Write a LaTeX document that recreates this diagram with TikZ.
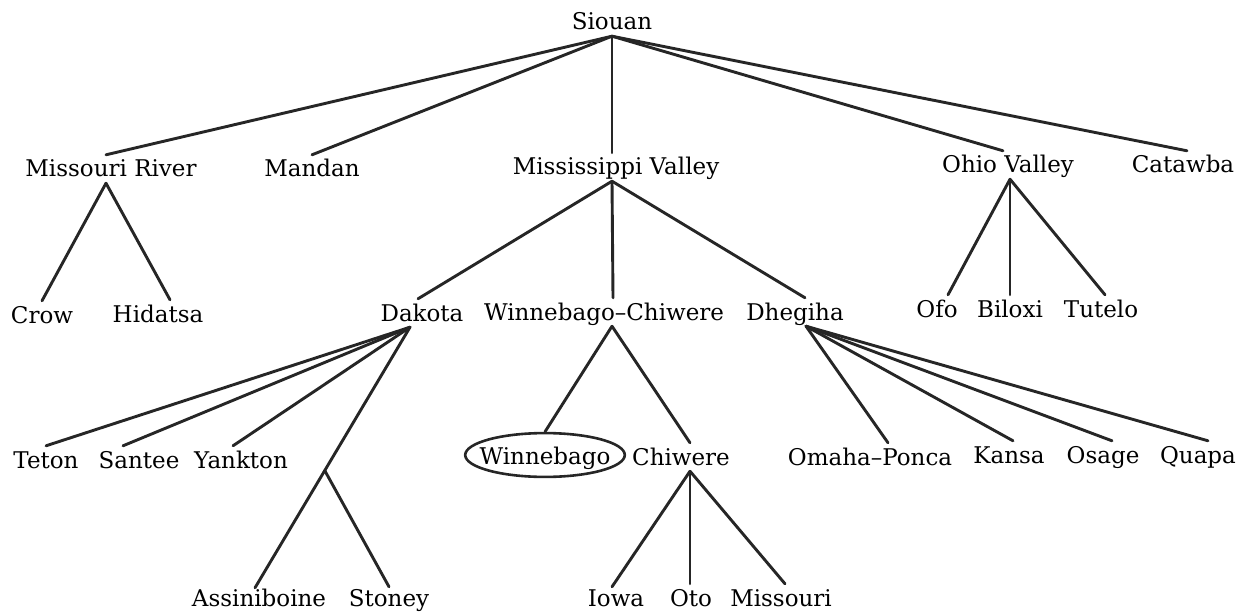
\documentclass[tikz,border=0pt]{standalone}
\usepackage{fontspec}
\setmainfont{DejaVu Serif}
\usetikzlibrary{shapes.geometric,calc}
\begin{document}
\begin{tikzpicture}[x=1pt,y=-1pt,
  lang/.style={font=\fontsize{23}{27}\selectfont, text height=17pt, text depth=1pt,
    inner xsep=0pt, inner ysep=5pt, anchor=base},
  branch/.style={line width=2.9pt, line cap=round, line join=round, draw=black!85}
]
\useasboundingbox (0,0) rectangle (1246,612);

% family root
\node[lang] (siouan) at (612,30) {Siouan};

% first level
\node[lang] (missriver)  at (111,177) {Missouri River};
\node[lang] (mandan)     at (312,177) {Mandan};
\node[lang] (missvalley) at (616,175) {Mississippi Valley};
\node[lang] (ohio)       at (1008,173) {Ohio Valley};
\node[lang] (catawba)    at (1183,173) {Catawba};

% second level
\node[lang] (crow)    at (42,323)  {Crow};
\node[lang] (hidatsa) at (158,322) {Hidatsa};
\node[lang] (dakota)  at (422,321) {Dakota};
\node[lang] (winchi)  at (604,320) {Winnebago\textendash Chiwere};
\node[lang] (dhegiha) at (795,320) {Dhegiha};
\node[lang] (ofo)     at (937,317) {Ofo};
\node[lang] (biloxi)  at (1010,317) {Biloxi};
\node[lang] (tutelo)  at (1101,317) {Tutelo};

% third level
\node[lang] (teton)   at (46,468)  {Teton};
\node[lang] (santee)  at (139,468) {Santee};
\node[lang] (yankton) at (241,468) {Yankton};
\node[lang, ellipse, draw=black!85, line width=2.6pt, anchor=center,
      text height=18pt, text depth=0pt, inner xsep=-9pt, inner ysep=6.5pt]
      (winnebago) at (545,455) {Winnebago};
\node[lang] (chiwere) at (681,465)  {Chiwere};
\node[lang] (omaha)   at (870,465)  {Omaha\textendash Ponca};
\node[lang] (kansa)   at (1009,463) {Kansa};
\node[lang] (osage)   at (1103,463) {Osage};
\node[lang] (quapa)   at (1198,463) {Quapa};

% fourth level
\node[lang] (assiniboine) at (259,606) {Assiniboine};
\node[lang] (stoney)      at (389,606) {Stoney};
\node[lang] (iowa)        at (616,606) {Iowa};
\node[lang] (oto)         at (691,606) {Oto};
\node[lang] (missouri)    at (781,606) {Missouri};

% Siouan branches
\draw[branch] (siouan.south) -- ([xshift=-5pt]missriver.north);
\draw[branch] (siouan.south) -- (mandan.north);
\draw[branch] (siouan.south) -- ([xshift=-4pt]missvalley.north);
\draw[branch] (siouan.south) -- ([xshift=-5pt]ohio.north);
\draw[branch] (siouan.south) -- ([xshift=4pt]catawba.north);

% Missouri River
\draw[branch] ([xshift=-5pt]missriver.south) -- (crow.north);
\draw[branch] ([xshift=-5pt]missriver.south) -- ([xshift=12pt]hidatsa.north);

% Mississippi Valley
\draw[branch] ([xshift=-4pt]missvalley.south) -- ([xshift=-4pt]dakota.north);
\draw[branch] ([xshift=-4pt]missvalley.south) -- ([xshift=9pt]winchi.north);
\draw[branch] ([xshift=-4pt]missvalley.south) -- ([xshift=10pt]dhegiha.north);

% Ohio Valley
\draw[branch] ([xshift=2pt]ohio.south) -- ([xshift=11pt]ofo.north);
\draw[branch] ([xshift=2pt]ohio.south) -- (biloxi.north);
\draw[branch] ([xshift=2pt]ohio.south) -- ([xshift=4pt]tutelo.north);

% Dakota
\coordinate (dk) at ([xshift=-12pt]dakota.south);
\draw[branch] (dk) -- (teton.north);
\draw[branch] (dk) -- ([xshift=-16pt]santee.north);
\draw[branch] (dk) -- ([xshift=-8pt]yankton.north);
\draw[branch] (dk) -- ([xshift=-4pt,yshift=-4pt]assiniboine.north);
\coordinate (fork) at ($(dk)!0.55!([xshift=-4pt,yshift=-4pt]assiniboine.north)$);
\draw[branch] (fork) -- ([yshift=-3pt]stoney.north);

% Winnebago-Chiwere
\draw[branch] ([xshift=8pt]winchi.south) -- (winnebago.north);
\draw[branch] ([xshift=8pt]winchi.south) -- ([xshift=9pt]chiwere.north);

% Chiwere
\draw[branch] ([xshift=9pt]chiwere.south) -- ([xshift=-4pt,yshift=-3pt]iowa.north);
\draw[branch] ([xshift=9pt]chiwere.south) -- ([xshift=-1pt]oto.north);
\draw[branch] ([xshift=9pt]chiwere.south) -- ([xshift=4pt]missouri.north);

% Dhegiha
\coordinate (dh) at ([xshift=11pt]dhegiha.south);
\draw[branch] (dh) -- ([xshift=18pt]omaha.north);
\draw[branch] (dh) -- ([xshift=4pt]kansa.north);
\draw[branch] (dh) -- ([xshift=9pt]osage.north);
\draw[branch] (dh) -- ([xshift=10pt]quapa.north);
\end{tikzpicture}
\end{document}
